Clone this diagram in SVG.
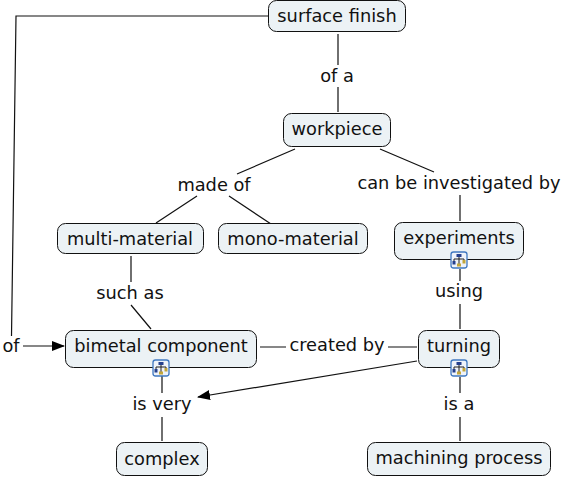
<svg xmlns="http://www.w3.org/2000/svg" width="564" height="478" viewBox="0 0 564 478">
<style>
text{font-family:"DejaVu Sans",Verdana,sans-serif;font-size:17.800px;fill:#111;text-anchor:middle}
.n{fill:#ecf2f5;stroke:#111;stroke-width:1}
.c{fill:none;stroke:#111;stroke-width:1.2}
.ib{fill:#eef3fa;stroke:#3f78c0;stroke-width:1.3}
.il{fill:none;stroke:#222;stroke-width:1}
.ia{fill:#24408e}
.iy{fill:#c2a63a}
</style>
<defs>
<marker id="a" markerUnits="userSpaceOnUse" markerWidth="14" markerHeight="10" refX="12" refY="5" orient="auto"><path d="M0 0L13 5L0 10z" fill="#000"/></marker>
<g id="ic"><rect class="ib" x="-8" y="-8" width="16" height="16" rx="2.500"/><path class="il" d="M0-3V4M-5 2V-1H5V2"/><rect class="ia" x="-2.500" y="-6" width="5" height="3"/><rect class="ia" x="-6.500" y="1" width="3" height="3.500"/><rect class="iy" x="3.500" y="0" width="3" height="3.500"/><rect class="iy" x="-2" y="3.500" width="4" height="3"/></g>
</defs>
<g id="connectors">
<path class="c" d="M268 16H16L11.500 336"/>
<path class="c" d="M23 346H64" marker-end="url(#a)"/>
<path class="c" d="M338 34V65M338 87V112"/>
<path class="c" d="M295 149L237 174M380 149L434 172"/>
<path class="c" d="M197 196L156 223M229 196L271 224"/>
<path class="c" d="M460 195V221"/>
<path class="c" d="M131 256V282M131 305L151 329"/>
<path class="c" d="M460 269V281M460 304V329"/>
<path class="c" d="M260 347H286M388 347H417"/>
<path class="c" d="M417 361L198 397" marker-end="url(#a)"/>
<path class="c" d="M162 376V393M162 417V441"/>
<path class="c" d="M460 377V393M460 417V441"/>
</g>
<g id="surface-finish"><rect class="n" x="268.500" y="0.500" width="137" height="31" rx="8"/><text x="337" y="22">surface finish</text></g>
<g id="workpiece"><rect class="n" x="283.500" y="113.500" width="107" height="33" rx="8"/><text x="337" y="135">workpiece</text></g>
<g id="multi-material"><rect class="n" x="57.500" y="223.500" width="146" height="30" rx="8"/><text x="130" y="245">multi-material</text></g>
<g id="mono-material"><rect class="n" x="218.500" y="223.500" width="149" height="30" rx="8"/><text x="293" y="245">mono-material</text></g>
<g id="experiments"><rect class="n" x="394.500" y="222.500" width="129" height="37" rx="8"/><text x="459" y="244">experiments</text><use href="#ic" x="459" y="260"/></g>
<g id="bimetal-component"><rect class="n" x="65.500" y="330.500" width="191" height="37" rx="8"/><text x="161" y="352">bimetal component</text><use href="#ic" x="161" y="368"/></g>
<g id="turning"><rect class="n" x="418.500" y="330.500" width="81" height="37" rx="8"/><text x="459" y="352">turning</text><use href="#ic" x="459" y="368"/></g>
<g id="complex"><rect class="n" x="116.500" y="442.500" width="91" height="33" rx="8"/><text x="162" y="465">complex</text></g>
<g id="machining-process"><rect class="n" x="367.500" y="442.500" width="183" height="33" rx="8"/><text x="459" y="464">machining process</text></g>
<g id="labels">
<text x="337" y="82">of a</text>
<text x="214" y="191">made of</text>
<text x="459" y="189">can be investigated by</text>
<text x="130" y="299">such as</text>
<text x="459" y="297">using</text>
<text x="11" y="352">of</text>
<text x="337" y="351">created by</text>
<text x="162" y="410">is very</text>
<text x="459" y="410">is a</text>
</g>
</svg>
